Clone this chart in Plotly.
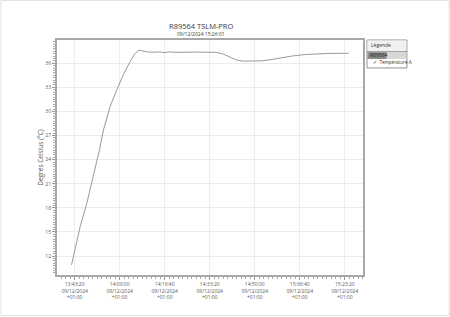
import plotly.graph_objects as go

# ---- data ----
times = ["13:42:10", "13:45:24", "13:47:52", "13:50:18", "13:52:31", "13:54:00",
         "13:56:28", "13:58:56", "14:01:23", "14:03:51", "14:05:40", "14:07:10",
         "14:08:20", "14:10:01", "14:12:30", "14:15:00", "14:16:40", "14:18:20",
         "14:20:50", "14:23:20", "14:25:50", "14:28:20", "14:30:50", "14:33:20",
         "14:35:50", "14:38:20", "14:40:50", "14:43:20", "14:45:50", "14:49:10",
         "14:52:30", "14:55:50", "15:00:00", "15:04:10", "15:08:20", "15:12:30",
         "15:16:40", "15:20:50", "15:24:46"]
temps = [10.9, 15.7, 18.6, 21.9, 25.2, 27.7,
         30.6, 32.7, 34.6, 36.2, 37.2, 37.65,
         37.55, 37.42, 37.38, 37.41, 37.33, 37.42,
         37.36, 37.39, 37.35, 37.40, 37.38, 37.37,
         37.36, 37.15, 36.75, 36.40, 36.27, 36.24,
         36.30, 36.45, 36.70, 36.92, 37.08, 37.18,
         37.22, 37.24, 37.24]
date = "2024-12-09"
x_tick_times = ["13:43:20", "14:00:00", "14:16:40", "14:33:20", "14:50:00", "15:06:40", "15:23:20"]
x_tick_date = "09/12/2024"
x_tick_tz = "+01:00"
y_ticks = [12, 15, 18, 21, 24, 27, 30, 33, 36]
title = "R89564 TSLM-PRO"
subtitle = "09/12/2024 15:26:01"
y_title = "Degrés Celsius (°C)"
legend_header = "Légende"
legend_group = "R89564"
legend_item = "✓  Température A"

W, H = 450, 317
L, R, T, B = 56.7, 363.3, 40.0, 275.3
pw, ph = R - L, B - T

def px(x):
    return (x - L) / pw

def py(y):
    return (B - y) / ph

FONT = "Open Sans"
GRAY = "#5a5a5a"

fig = go.Figure()
fig.add_trace(go.Scatter(
    x=[f"{date} {t}" for t in times], y=temps, mode="lines",
    line=dict(color="#9a9a9a", width=1), showlegend=False, hoverinfo="skip"))

fig.update_layout(
    width=W, height=H, autosize=False,
    margin=dict(l=L, r=W - R, t=T, b=H - B, pad=0),
    paper_bgcolor="white", plot_bgcolor="white",
    font=dict(family=FONT, color=GRAY, size=5),
    showlegend=False,
)
fig.update_xaxes(
    type="date",
    range=[f"{date} 13:36:48", f"{date} 15:30:05"],
    tickmode="array",
    tickvals=[f"{date} {t}" for t in x_tick_times],
    ticktext=[f"{t}<br>{x_tick_date}<br>{x_tick_tz}" for t in x_tick_times],
    ticks="outside", ticklen=3, tickcolor="#999", tickfont=dict(size=5, color=GRAY),
    showgrid=True, gridcolor="#ececec", gridwidth=1,
    showline=True, linecolor="#a8a8a8", linewidth=2, mirror=True,
    zeroline=False,
    minor=dict(tickmode="linear", tick0=f"{date} 13:43:20", dtick=100000,
               ticks="outside", ticklen=2, tickcolor="#aaa", showgrid=False),
)
fig.update_yaxes(
    range=[9.64, 38.9],
    tickmode="array", tickvals=y_ticks, ticktext=[str(v) for v in y_ticks],
    ticks="outside", ticklen=3, tickcolor="#999", tickfont=dict(size=5, color=GRAY),
    showgrid=True, gridcolor="#ececec", gridwidth=1,
    showline=True, linecolor="#a8a8a8", linewidth=2, mirror=True,
    zeroline=False,
    minor=dict(tickmode="linear", tick0=0, dtick=0.3,
               ticks="outside", ticklen=2, tickcolor="#aaa", showgrid=False),
    title=dict(text=y_title, font=dict(size=6.5, color=GRAY), standoff=0),
)

annotations = [
    dict(text=title, x=px(201), y=py(25.5), xref="paper", yref="paper",
         showarrow=False, font=dict(size=7.5, color="#3a3a3a"), xanchor="center", yanchor="middle"),
    dict(text=subtitle, x=px(201), y=py(34.3), xref="paper", yref="paper",
         showarrow=False, font=dict(size=5, color="#3a3a3a"), xanchor="center", yanchor="middle"),
    dict(text=legend_header, x=px(369.5), y=py(45.5), xref="paper", yref="paper",
         showarrow=False, font=dict(size=5, color="#333"), xanchor="left", yanchor="middle"),
    dict(text=legend_group, x=px(368.5), y=py(55.5), xref="paper", yref="paper",
         showarrow=False, font=dict(size=5, color="#222"), xanchor="left", yanchor="middle"),
    dict(text=legend_item, x=px(371), y=py(62.2), xref="paper", yref="paper",
         showarrow=False, font=dict(size=4.6, color="#333"), xanchor="left", yanchor="middle"),
]
shapes = [
    # page border
    dict(type="rect", xref="paper", yref="paper", x0=px(0.5), x1=px(449.5), y0=py(316), y1=py(0.5),
         line=dict(color="#e2e2e2", width=1)),
    # legend box
    dict(type="rect", xref="paper", yref="paper", x0=px(367.3), x1=px(407.3), y0=py(68), y1=py(40),
         line=dict(color="#909090", width=1), fillcolor="white"),
    dict(type="rect", xref="paper", yref="paper", x0=px(367.8), x1=px(406.8), y0=py(51.5), y1=py(40.5),
         line=dict(width=0), fillcolor="#f1f1f1"),
    dict(type="line", xref="paper", yref="paper", x0=px(367.3), x1=px(407.3), y0=py(51.8), y1=py(51.8),
         line=dict(color="#808080", width=1)),
    dict(type="rect", xref="paper", yref="paper", x0=px(367.8), x1=px(387), y0=py(59), y1=py(52.3),
         line=dict(width=0), fillcolor="#8a8a8a"),
    dict(type="rect", xref="paper", yref="paper", x0=px(387), x1=px(406.8), y0=py(59), y1=py(52.3),
         line=dict(width=0), fillcolor="#d8d8d8"),
]
fig.update_layout(annotations=annotations, shapes=shapes)

fig.write_html("out.html")
